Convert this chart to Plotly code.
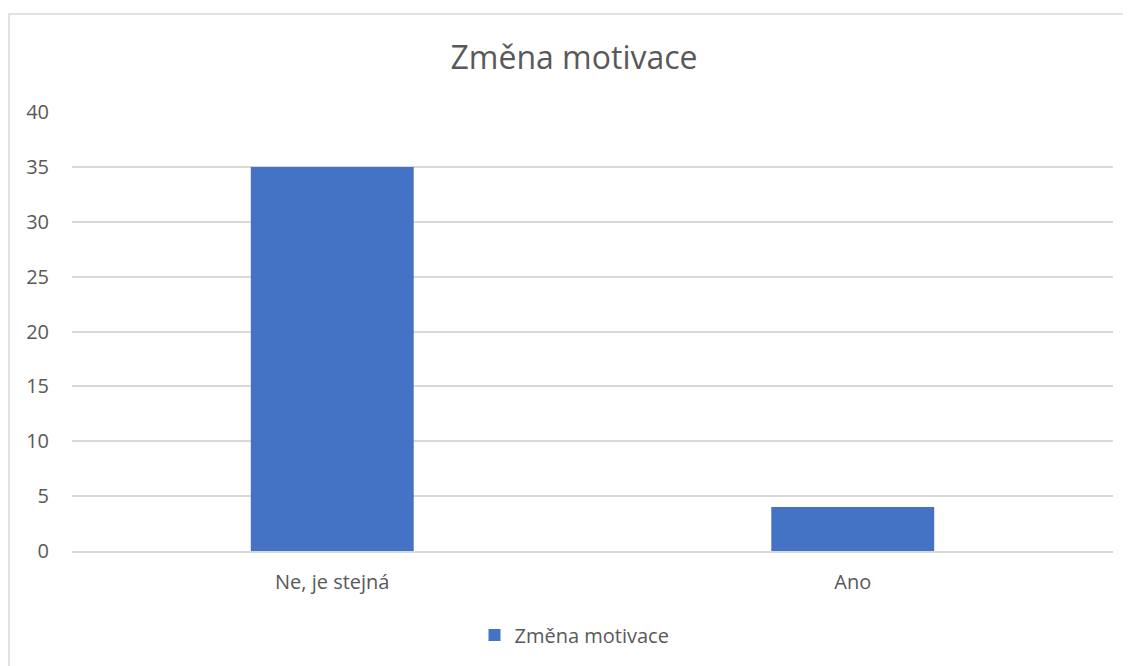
import plotly.graph_objects as go

categories = ["Ne, je stejná", "Ano"]
values = [35, 4]
series_name = "Změna motivace"
chart_title = "Změna motivace"
y_ticks = [0, 5, 10, 15, 20, 25, 30, 35, 40]

BAR_COLOR = "#4472C4"
GRID_COLOR = "#d9d9d9"
TEXT_COLOR = "#595959"
FONT = "'Open Sans', 'Noto Sans', sans-serif"

# the page body adds an 8px margin, so the figure is 8px smaller than the window
W, H = 1123, 658
L, T, R, B = 64, 104, 18, 115
plot_w = W - L - R
plot_h = H - T - B

fig = go.Figure()
fig.add_trace(
    go.Bar(
        x=categories,
        y=values,
        name=series_name,
        marker=dict(color=BAR_COLOR, line=dict(width=0)),
        width=0.313,
        showlegend=True,
    )
)

fig.update_layout(
    width=W,
    height=H,
    margin=dict(l=L, r=R, t=T, b=B),
    paper_bgcolor="white",
    plot_bgcolor="white",
    font=dict(family=FONT, color=TEXT_COLOR, size=20),
    title=dict(
        text=chart_title,
        x=566 / W,
        xref="container",
        xanchor="center",
        y=1 - 50 / H,
        yref="container",
        yanchor="middle",
        font=dict(size=32, color=TEXT_COLOR, family=FONT),
    ),
    showlegend=True,
    legend=dict(
        orientation="h",
        x=0.5 - 18 / plot_w,
        xanchor="center",
        y=-84 / plot_h,
        yanchor="middle",
        font=dict(size=20, color=TEXT_COLOR),
        itemwidth=30,
    ),
)

fig.update_yaxes(
    range=[0, 40],
    tickvals=y_ticks,
    showgrid=True,
    gridcolor=GRID_COLOR,
    gridwidth=1.5,
    zeroline=False,
    showline=False,
    ticks="outside",
    ticklen=18,
    tickcolor="rgba(0,0,0,0)",
    tickfont=dict(size=20, color=TEXT_COLOR),
)
fig.update_xaxes(
    showgrid=False,
    showline=True,
    linecolor=GRID_COLOR,
    linewidth=1.5,
    ticks="outside",
    ticklen=12,
    tickcolor="rgba(0,0,0,0)",
    tickfont=dict(size=20, color=TEXT_COLOR),
)

# chart frame, like the Excel chart area border
fig.add_shape(
    type="rect",
    xref="paper",
    yref="paper",
    x0=(1 - L) / plot_w,
    x1=1.1,
    y0=-0.5,
    y1=1 + (T - 6) / plot_h,
    line=dict(color=GRID_COLOR, width=1.5),
    fillcolor="rgba(0,0,0,0)",
    layer="below",
)

fig.write_html("out.html")
